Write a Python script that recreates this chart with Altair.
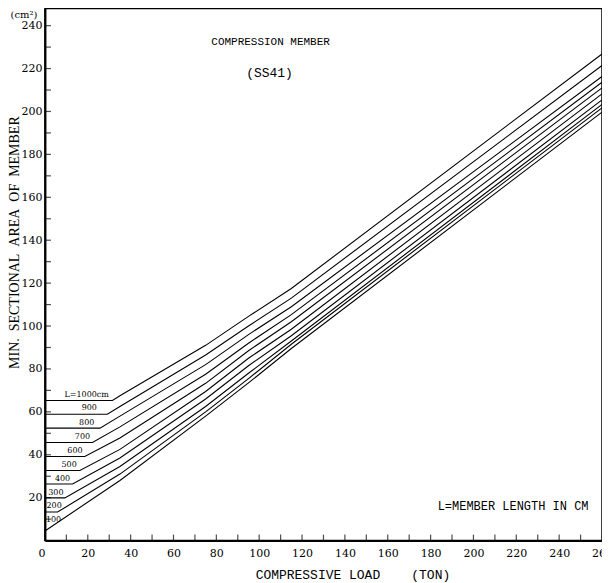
import altair as alt
import pandas as pd

# ---- data ----
lengths = [100, 200, 300, 400, 500, 600, 700, 800, 900, 1000]
# end of the horizontal (minimum-area) part of each curve
plateau_end = [0, 5.9, 9.3, 12.9, 16.3, 18.6, 22.2, 25.7, 29.1, 31.5]
plateau_area = [4.5, 13.3, 19.9, 26.4, 32.7, 39.2, 45.7, 52.4, 58.9, 65.3]
# loads at which the rising part was read
load_grid = [35, 75, 95, 115, 260]
area_100 = [28.0, 58.0, 73.5, 89.5, 199.7]
area_200 = [31.0, 60.0, 75.5, 91.5, 201.7]
area_300 = [34.5, 62.5, 78.0, 93.0, 203.3]
area_400 = [38.5, 66.0, 81.5, 95.5, 205.4]
area_500 = [42.5, 69.5, 85.0, 98.5, 208.2]
area_600 = [47.8, 73.3, 88.5, 102.0, 211.0]
area_700 = [53.0, 77.5, 92.0, 105.3, 213.6]
area_800 = [58.0, 82.0, 96.0, 109.0, 216.3]
area_900 = [62.5, 86.5, 100.0, 113.0, 221.4]
area_1000 = [67.5, 91.0, 104.5, 117.5, 226.8]
areas = [area_100, area_200, area_300, area_400, area_500,
         area_600, area_700, area_800, area_900, area_1000]

label_text = ["100", "200", "300", "400", "500", "600", "700", "800", "900", "L=1000cm"]
label_load = [4.0, 4.3, 5.1, 8.2, 11.3, 14.0, 17.5, 19.5, 20.7, 19.5]
label_area = [9.8, 16.0, 22.2, 28.8, 35.3, 41.9, 48.5, 55.0, 61.7, 67.9]

x_tick_values = list(range(10, 260, 10))
y_tick_values = list(range(10, 250, 10))
x_label_values = list(range(0, 261, 20))
y_label_values = list(range(20, 241, 20))

# ---- tables ----
rows = []
for L, xe, a0, ys in zip(lengths, plateau_end, plateau_area, areas):
    k = 0
    rows.append(dict(L=L, load=0, area=a0, k=k)); k += 1
    if xe > 0:
        rows.append(dict(L=L, load=xe, area=a0, k=k)); k += 1
    for x, y in zip(load_grid, ys):
        rows.append(dict(L=L, load=x, area=y, k=k)); k += 1
curves = pd.DataFrame(rows)
labels = pd.DataFrame(dict(text=label_text, load=label_load, area=label_area))
xt = pd.DataFrame(dict(load=x_tick_values))
yt = pd.DataFrame(dict(area=y_tick_values))

xscale = alt.Scale(domain=[0, 260], nice=False, zero=True)
yscale = alt.Scale(domain=[0, 248], nice=False, zero=True)

x_axis = alt.Axis(
    values=x_label_values, grid=False, ticks=False,
    domainColor="black", domainWidth=2,
    labelFont="DejaVu Serif", labelFontSize=11, labelColor="black",
    labelPadding=7,
    labelAlign={"expr": "datum.value == 0 ? 'right' : 'center'"},
    title="COMPRESSIVE LOAD\u00a0\u00a0\u00a0\u00a0(TON)",
    titleFont="Liberation Mono", titleFontSize=13, titleFontWeight="normal",
    titleColor="black", titleX=308, titleY=34, titleBaseline="middle",
)
y_axis = alt.Axis(
    values=y_label_values, grid=False, ticks=False,
    domainColor="black", domainWidth=2,
    labelFont="DejaVu Serif", labelFontSize=11, labelColor="black",
    labelPadding=3,
    title="MIN.\u00a0\u00a0SECTIONAL\u00a0\u00a0AREA\u00a0\u00a0OF\u00a0\u00a0MEMBER",
    titleFont="Liberation Serif", titleFontSize=14, titleFontWeight="normal",
    titleColor="black", titleAngle=270, titleX=-30, titleY=234,
    titleBaseline="middle", titleAlign="center",
)

lines = alt.Chart(curves).mark_line(color="black", strokeWidth=1.1).encode(
    x=alt.X("load:Q", scale=xscale, axis=x_axis),
    y=alt.Y("area:Q", scale=yscale, axis=y_axis),
    detail="L:N",
    order="k:Q",
)

curve_labels = alt.Chart(labels).mark_text(
    font="DejaVu Serif", fontSize=8, color="black", align="center", baseline="middle"
).encode(x="load:Q", y="area:Q", text="text:N")

xticks = alt.Chart(xt).mark_tick(
    orient="vertical", size=6, yOffset=-3, thickness=1.2, color="black"
).encode(x="load:Q", y=alt.datum(0))

yticks = alt.Chart(yt).mark_tick(
    orient="horizontal", size=6, xOffset=3, thickness=1.2, color="black"
).encode(y="area:Q", x=alt.datum(0))

title1 = alt.Chart().mark_text(
    text="COMPRESSION MEMBER", font="Liberation Mono", fontSize=11, color="black"
).encode(x=alt.datum(105.3), y=alt.datum(232.6))
title2 = alt.Chart().mark_text(
    text="(SS41)", font="Liberation Mono", fontSize=13, color="black"
).encode(x=alt.datum(104.8), y=alt.datum(218.1))
note = alt.Chart().mark_text(
    text="L=MEMBER LENGTH IN CM", font="Liberation Mono", fontSize=12, color="black"
).encode(x=alt.datum(218.5), y=alt.datum(16.3))
unit = alt.Chart().mark_text(
    text="(cm²)", font="DejaVu Serif", fontSize=10, color="black", baseline="middle"
).encode(x=alt.value(-21), y=alt.value(7))

chart = alt.layer(
    lines, curve_labels, xticks, yticks, title1, title2, note, unit
).properties(
    width=558, height=533,
    autosize=alt.AutoSizeParams(type="none"),
    padding={"left": 37, "top": 0, "right": 0, "bottom": 42},
    background="white",
).configure_view(stroke="black", strokeWidth=1.5)

chart.save("out.html", embed_options={"renderer": "svg", "actions": False})
